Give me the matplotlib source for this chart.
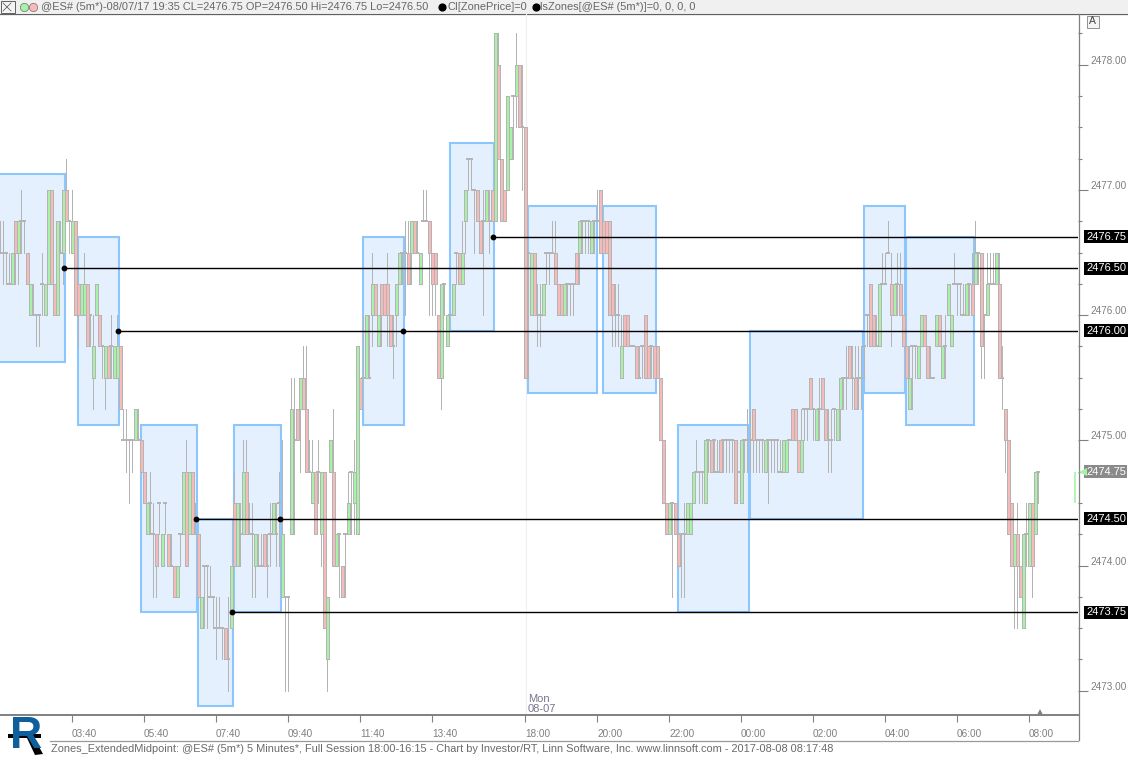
"""Zones_ExtendedMidpoint chart, 5 minute @ES# bars with zone boxes and midpoint lines."""
import matplotlib
matplotlib.use("Agg")
import matplotlib.pyplot as plt
from matplotlib.patches import Rectangle, Polygon
from matplotlib.transforms import ScaledTranslation, blended_transform_factory

W, H = 1128, 757
BASE = 2473.0   # bar rows below are quarter point ticks above this price

# (open, high, low, close) in ticks left to right
bars_a = [
    (14,15,14,14),(14,15,13,14),(14,14,13,14),(13,14,13,13),(13,14,13,14),(15,15,13,14),(14,15,13,15),(15,16,14,15),(15,15,14,15),(14,14,13,13),
    (12,13,12,13),(12,13,12,12),(12,12,11,12),(12,12,11,12),(13,14,12,13),(12,13,12,13),(13,16,13,16),(16,16,13,13),(13,13,12,12),(12,15,12,15),
    (14,15,14,14),(14,16,13,16),(16,17,15,15),(15,15,14,15),(14,16,14,15),(15,15,12,12),(13,13,11,12),(12,13,12,13),(12,14,12,13),(13,13,11,11),
    (12,12,11,12),(10,12,9,11),(12,13,12,13),(12,12,11,11),(11,11,10,11),(10,11,9,11),(11,11,10,10),(11,12,10,11),(10,11,10,11),(10,12,10,11),
    (11,11,9,9),(8,9,8,8),(8,9,7,8),(8,8,6,8),(8,8,7,8),(8,9,8,9),(8,9,8,8),(8,8,7,7),(7,7,6,6),(5,6,5,6),
]
bars_b = [
    (6,7,5,6),(5,6,3,5),(5,5,3,4),(6,6,5,6),(4,5,4,5),(6,6,5,6),(5,5,4,4),(4,5,4,4),(4,4,3,3),(3,4,3,4),
    (5,5,4,5),(5,7,5,7),(7,8,4,4),(5,7,5,7),(7,7,5,5),(5,6,5,5),(5,5,3,3),(2,3,2,3),(4,4,2,4),(4,4,2,4),
    (3,4,3,3),(3,3,2,3),(2,3,1,2),(2,3,2,2),(2,2,1,2),(2,2,1,1),(1,3,0,1),(2,4,2,4),(6,7,4,4),(4,6,4,6),
    (5,6,4,5),(5,8,5,7),(7,8,5,5),(5,6,5,5),(5,6,3,5),(4,5,3,5),(4,5,4,4),(4,5,4,4),(5,5,4,4),(4,5,3,4),
    (5,6,4,5),(5,6,5,6),(5,6,4,5),(6,7,4,6),(3,8,3,5),(3,3,0,3),(3,3,0,3),(5,10,5,9),(8,10,5,8),(9,9,8,8),
]
bars_c = [
    (9,10,7,10),(10,11,9,9),(9,11,7,7),(7,8,7,7),(6,8,6,7),(7,7,5,5),(7,8,6,7),(5,7,4,7),(7,7,2,2),(1,3,0,3),
    (7,8,7,8),(7,9,4,4),(4,5,4,5),(5,5,3,5),(4,4,3,3),(5,5,3,5),(5,7,5,6),(7,7,5,7),(6,8,5,7),(5,11,5,11),
    (10,10,9,9),(10,12,10,10),(10,12,10,12),(10,12,10,10),(12,14,11,13),(13,13,12,12),(11,12,11,12),(13,13,11,12),(13,13,12,12),(13,14,11,12),
    (12,12,11,11),(11,12,10,11),(12,13,11,13),(13,14,13,14),(14,14,13,14),(14,15,12,14),(14,15,13,13),(14,15,13,15),(15,15,14,14),(14,15,14,14),
    (13,14,13,14),(15,16,15,15),(15,16,15,15),(15,15,12,14),(14,14,12,13),(14,14,12,13),(12,12,10,10),(10,13,9,13),(13,13,12,13),(11,12,11,12),
]
bars_d = [
    (12,12,12,12),(12,13,12,13),(14,14,13,14),(14,14,13,13),(13,15,13,14),(15,16,14,16),(17,17,16,17),(17,17,16,17),(16,16,14,16),(16,16,15,15),
    (15,15,14,14),(15,16,12,15),(15,16,15,16),(15,16,14,15),(16,16,15,15),(15,21,15,21),(20,21,17,17),(17,17,15,15),(16,16,15,15),(16,19,16,19),
    (17,18,17,18),(19,19,17,19),(19,21,18,20),(20,20,18,18),(18,20,16,18),(18,18,10,10),(14,14,10,14),(12,14,12,14),(14,14,12,12),(12,13,11,12),
    (12,13,11,12),(12,13,12,13),(14,14,13,14),(14,14,13,14),(14,15,14,14),(14,15,13,13),(13,13,12,12),(13,13,12,12),(12,13,12,13),(13,13,12,13),
    (13,13,12,13),(13,13,12,13),(14,14,13,13),(14,15,13,15),(15,15,14,15),(15,15,14,15),(15,15,14,15),(14,15,14,15),(15,15,14,15),(15,16,15,15),
]
bars_e = [
    (16,16,14,14),(15,15,14,14),(15,15,14,14),(15,15,12,12),(13,13,11,12),(12,13,11,12),(12,13,11,12),(10,12,10,11),(12,12,11,11),(12,12,11,11),
    (11,11,11,11),(11,11,11,11),(11,11,10,10),(10,11,10,10),(11,11,10,11),(12,12,10,10),(11,11,10,10),(11,11,10,11),(11,11,10,10),(11,11,10,10),
    (10,10,8,8),(8,8,6,6),(6,6,5,5),(5,6,5,6),(6,6,3,6),(6,6,5,5),(5,5,4,4),(5,5,3,5),(5,6,3,5),(5,6,5,6),
    (5,6,5,6),(6,7,6,7),(7,8,7,7),(7,7,6,7),(7,7,6,7),(6,8,6,8),(8,8,7,8),(8,8,7,7),(8,8,7,8),(7,8,7,7),
    (8,8,7,7),(8,8,7,8),(8,8,7,8),(8,8,7,8),(8,8,7,8),(8,8,6,6),(7,7,7,7),(6,8,6,8),(8,8,7,8),(8,9,7,8),
]
bars_f = [
    (8,9,7,8),(9,9,7,8),(8,8,7,8),(8,8,7,8),(8,8,7,8),(7,8,7,8),(8,8,6,8),(8,8,7,8),(8,8,7,8),(8,8,7,8),
    (7,8,7,7),(7,8,7,8),(7,8,7,8),(8,8,8,8),(9,9,8,8),(9,9,8,8),(8,8,7,7),(7,9,7,8),(9,9,8,9),(9,9,8,9),
    (10,10,9,9),(9,9,8,9),(8,9,8,9),(9,10,8,9),(10,10,9,9),(9,9,8,8),(8,9,7,8),(8,9,7,8),(9,9,8,9),(8,9,8,9),
    (9,10,8,10),(10,10,9,10),(10,11,9,10),(11,11,10,10),(10,11,9,10),(10,11,9,9),(10,11,9,10),(10,11,9,10),(11,11,10,11),(12,12,11,12),
    (13,13,11,11),(12,12,11,11),(11,12,11,11),(11,13,11,13),(13,14,13,13),(13,14,13,13),(14,15,14,14),(13,14,11,12),(12,13,12,13),(13,14,12,13),
]
bars_g = [
    (13,14,12,12),(12,12,11,11),(11,11,10,10),(9,11,9,10),(11,11,9,11),(11,11,10,11),(10,11,10,11),(11,12,11,12),(12,12,11,11),(11,11,10,10),
    (10,11,10,10),(10,10,10,10),(11,12,11,12),(12,12,11,11),(10,11,10,11),(11,12,10,11),(12,13,12,13),(11,12,11,12),(13,14,13,13),(13,13,12,13),
    (13,13,12,13),(12,13,12,12),(12,13,12,13),(13,13,12,13),(13,14,12,12),(13,15,13,14),(14,14,13,14),(14,14,10,11),(12,12,10,12),(12,14,12,13),
    (13,14,13,13),(13,14,13,13),(13,14,13,14),(13,14,10,10),(10,11,9,10),(9,9,7,8),(8,8,5,5),(6,6,4,4),(4,5,2,5),(5,6,2,4),
    (4,4,3,3),(2,5,2,5),(5,6,4,5),(4,6,4,6),(6,6,3,4),(5,7,5,7),(7,7,6,7),
]

# zone boxes: first bar, last bar (as fractional bar numbers), top and bottom price
zone_left = [-2, 26, 47, 66, 78, 121, 150, 176, 201, 226, 250, 288, 302]
zone_right = [21.7, 39.7, 65.7, 77.7, 93.7, 134.7, 164.7, 199, 218.7, 249.7, 287.7, 301.7, 324.7]
zone_top = [2477.125, 2476.625, 2475.125, 2474.375, 2475.125, 2476.625, 2477.375,
            2476.875, 2476.875, 2475.125, 2475.875, 2476.875, 2476.625]
zone_bot = [2475.625, 2475.125, 2473.625, 2472.875, 2473.625, 2475.125, 2475.875,
            2475.375, 2475.375, 2473.625, 2474.375, 2475.375, 2475.125]

# midpoint lines
line_price = [2476.625, 2476.375, 2475.875, 2474.375, 2473.625]
line_start = [164.3, 21.3, 39.3, 65.3, 77.3]
line_label = ["2476.75", "2476.50", "2476.00", "2474.50", "2473.75"]
line_dots_x = [134.3, 93.3]
line_dots_y = [2475.875, 2474.375]

time_ticks = [24, 48, 72, 96, 120, 144, 175, 199, 223, 247, 271, 295, 319, 343]
time_labels = ["03:40", "05:40", "07:40", "09:40", "11:40", "13:40", "18:00", "20:00",
               "22:00", "00:00", "02:00", "04:00", "06:00", "08:00"]
price_major = [2473, 2474, 2475, 2476, 2477, 2478]
price_minor = [2472.75 + 0.25 * k for k in range(1, 23)]

GRAY = "#b4b4b4"
UP = "#a6f2a6"
DOWN = "#f8b9b9"
AXIS = "#808080"
TXT = "#7f7f7f"
ZONE_EDGE = "#8cc6ff"
ZONE_FILL = "#e4f0fe"
FONT = "Liberation Sans"

plt.rcParams["font.family"] = FONT
fig = plt.figure(figsize=(W / 100, H / 100), dpi=100, facecolor="white")

# chrome layer in pixel coordinates (header strip, status bar, logo)
chrome = fig.add_axes([0, 0, 1, 1], zorder=0)
chrome.set_xlim(0, W)
chrome.set_ylim(H, 0)
chrome.axis("off")
chrome.add_patch(Rectangle((0, 0), W, 13, fc="#f0f0f0", ec="none"))
chrome.plot([0, W], [13.5, 13.5], color="#606060", lw=0.9)
chrome.add_patch(Rectangle((0.5, 0.5), 14, 12.5, fc="#f4f4f4", ec="#606060", lw=0.7))
chrome.plot([3, 11], [3, 11], color="#505050", lw=0.5)
chrome.plot([3, 11], [11, 3], color="#505050", lw=0.5)
chrome.scatter([24], [6.5], s=36, fc=UP, ec="#707070", lw=0.5)
chrome.scatter([33], [6.5], s=36, fc=DOWN, ec="#707070", lw=0.5)
chrome.text(41, 6.5, "@ES# (5m*)-08/07/17 19:35 CL=2476.75 OP=2476.50 Hi=2476.75 Lo=2476.50",
            fontsize=7.9, color="#666666", va="center")
chrome.scatter([442, 535.5], [6.5, 6.5], s=24, color="black", marker="o")
chrome.text(447, 6.5, "CI[ZonePrice]=0", fontsize=7.9, color="#666666", va="center")
chrome.text(540, 6.5, "lsZones[@ES# (5m*)]=0, 0, 0, 0", fontsize=7.9, color="#666666", va="center")

chrome.plot([50, 1078], [740.5, 740.5], color="#999999", lw=0.9)
chrome.plot([1078.5, 1078.5], [14, 740], color=AXIS, lw=0.9)
chrome.text(51, 749.5, "Zones_ExtendedMidpoint: @ES# (5m*) 5 Minutes*, Full Session 18:00-16:15 - Chart by "
            "Investor/RT, Linn Software, Inc. www.linnsoft.com - 2017-08-08 08:17:48",
            fontsize=7.9, color="#6a6a6a", va="center")

# logo
chrome.text(26, 736, "R", fontsize=32, weight="bold", color="#0f5f9c", ha="center", va="center")
chrome.add_patch(Polygon([[27, 738], [33, 736], [43, 754], [35, 755]], fc="black", ec="none"))
chrome.add_patch(Rectangle((8, 734), 33, 4, fc="black", ec="none"))

# "A" button
chrome.add_patch(Rectangle((1086.5, 15.5), 12, 12, fc="#f4f4f4", ec="#909090", lw=0.7))
chrome.text(1092.5, 21.5, "A", fontsize=7.5, color="#444444", ha="center", va="center")

# main price pane
ax = fig.add_axes([0, 1 - 715 / H, 1078 / W, 701 / H], zorder=1)
ax.patch.set_alpha(0)
ax.set_xlim(0, 1078 / 3)
y_of = lambda py: BASE + (690.7 - py) / 125.2
ax.set_ylim(y_of(715), y_of(14))
for side in ("top", "left", "right"):
    ax.spines[side].set_visible(False)
ax.spines["bottom"].set_color(AXIS)
ax.spines["bottom"].set_linewidth(1.4)

# session break
ax.axvline(175.2, color="#efefef", lw=0.8, zorder=0.5)

for left, right, top, bot in zip(zone_left, zone_right, zone_top, zone_bot):
    ax.add_patch(Rectangle((left, bot), right - left, top - bot, fc=ZONE_FILL, ec=ZONE_EDGE, lw=1.5, zorder=1))

bars = bars_a + bars_b + bars_c + bars_d + bars_e + bars_f + bars_g
price = lambda t: BASE + t / 4.0
for i, (o, h, l, c) in enumerate(bars):
    ax.plot([i, i], [price(l), price(h)], color=GRAY, lw=0.72, antialiased=False, zorder=2,
            solid_capstyle="butt")
    if o == c:
        ax.plot([i - 0.6, i + 0.6], [price(o), price(o)], color=GRAY, lw=1.3, antialiased=False, zorder=2.2,
                solid_capstyle="butt")
    else:
        ax.bar(i, abs(price(c) - price(o)), bottom=price(min(o, c)), width=1.0,
               color=UP if c > o else DOWN, edgecolor=GRAY, linewidth=0.72, antialiased=False, zorder=2.5)

trans_lbl = blended_transform_factory(ax.transAxes, ax.transData)
for p, start, lab in zip(line_price, line_start, line_label):
    ax.plot([start, 1078 / 3], [p, p], color="black", lw=1.0, zorder=3, solid_capstyle="butt")
    ax.plot([start], [p], "o", color="black", ms=4.2, mew=0, zorder=3.2)
    ax.text(1 + 8 / 1078, p, lab, transform=trans_lbl, fontsize=8, color="white", va="center", ha="left",
            clip_on=False, bbox=dict(boxstyle="square,pad=0.14", fc="black", ec="none"), zorder=4)
ax.plot(line_dots_x, line_dots_y, "o", color="black", ms=4.2, mew=0, zorder=3.2)

# last price marker
ax.plot([358.4, 358.4], [price(6), price(7)], color=UP, lw=1.2, zorder=3, solid_capstyle="butt")
ax.text(1 + 8 / 1078, price(7), "2474.75", transform=trans_lbl, fontsize=8, color="white", va="center",
        ha="left", clip_on=False, bbox=dict(boxstyle="square,pad=0.14", fc="#8a8a8a", ec="none"), zorder=4)
ax.plot([1 + 5 / 1078], [price(7)], marker="<", color=UP, ms=6, mew=0, transform=trans_lbl, clip_on=False, zorder=4)

ax.text(176, y_of(698.5), "Mon", fontsize=8, color="#7a7390", va="center", ha="left")
ax.text(176, y_of(709), "08-07", fontsize=8, color="#7a7390", va="center", ha="left")
ax.plot([346.7], [y_of(712)], marker="^", color="#808080", ms=4.5, mew=0, zorder=4)

# axes ticks
ax.set_xticks(time_ticks)
ax.set_xticklabels(time_labels, ha="left", fontsize=7.2, color=TXT)
ax.tick_params(axis="x", length=5, width=0.8, color=AXIS, pad=5)

ax.yaxis.tick_right()
ax.set_yticks(price_major)
ax.set_yticklabels([f"{p:.2f}" for p in price_major], fontsize=7.2, color=TXT)
ax.set_yticks(price_minor, minor=True)
ax.tick_params(axis="y", which="major", length=7, width=0.8, color=AXIS, pad=2, right=True)
ax.tick_params(axis="y", which="minor", length=3, width=0.8, color=AXIS, right=True)
shift = ScaledTranslation(0, 3.5 / 72, fig.dpi_scale_trans)
for label in ax.get_yticklabels():
    label.set_transform(label.get_transform() + shift)

fig.savefig("out.png", dpi=100)
